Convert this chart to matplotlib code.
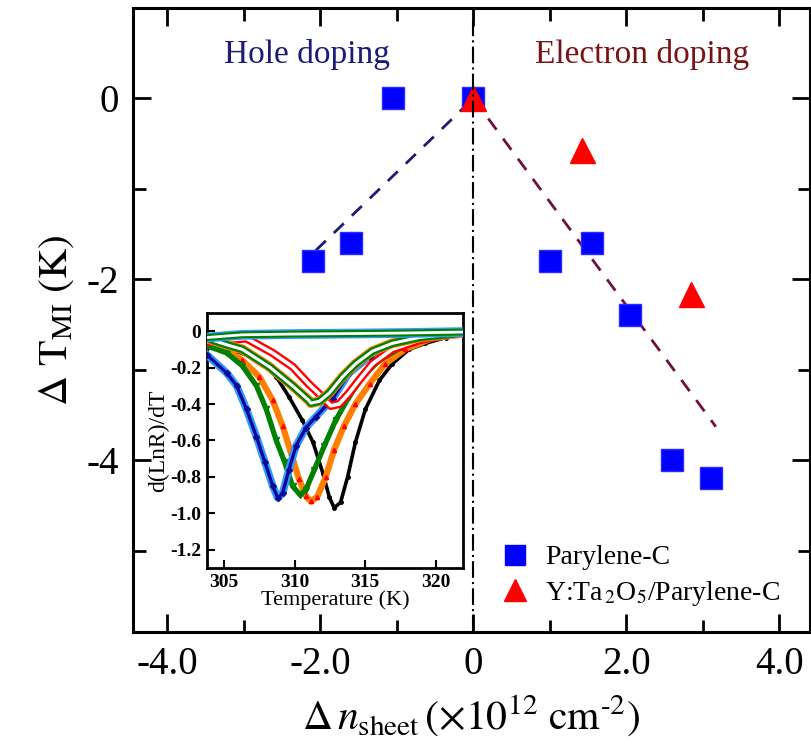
import numpy as np
import matplotlib.pyplot as plt
from matplotlib.lines import Line2D

plt.rcParams['font.family'] = ['Liberation Serif', 'DejaVu Serif']
plt.rcParams['mathtext.fontset'] = 'stix'
plt.rcParams['axes.unicode_minus'] = False

# shift of T_MI vs. sheet carrier density
dn_par = [-2.1, -1.6, -1.05, 0.0, 1.0, 1.55, 2.05, 2.6, 3.1]
dT_par = [-1.8, -1.6, 0.0, 0.0, -1.8, -1.6, -2.4, -4.0, -4.2]
dn_yta = [0.0, 1.42, 2.84]
dT_yta = [0.0, -0.57, -2.16]

# guide lines
hole_x = [-2.06, 0.0]
hole_y = [-1.68, 0.0]
elec_x = [0.0, 3.17]
elec_y = [0.0, -3.63]

xticks = [-4, -2, 0, 2, 4]
xticklabels = ['-4.0', '-2.0', '0', '2.0', '4.0']
yticks = [0, -2, -4]
yticklabels = ['0', '-2', '-4']

# inset: d(lnR)/dT vs temperature
t_blue = [303.8, 305.2, 305.9, 306.6, 307.3, 307.9, 308.45, 308.8, 309.15, 309.6,
          310.1, 310.8, 311.5, 312.7, 313.85, 315.3, 316.9, 319.0, 321.9]
d_blue = [-0.13, -0.23, -0.30, -0.43, -0.58, -0.72, -0.85, -0.915, -0.89, -0.76,
          -0.63, -0.53, -0.47, -0.37, -0.23, -0.14, -0.067, -0.03, -0.012]

t_black = [303.8, 305.9, 307.5, 308.7, 309.6, 310.55, 311.3, 312.0, 312.45, 312.8,
           313.25, 313.75, 314.3, 315.0, 316.0, 316.9, 318.1, 319.25, 320.7, 321.9]
d_black = [-0.09, -0.11, -0.16, -0.25, -0.36, -0.49, -0.61, -0.78, -0.91, -0.97,
           -0.94, -0.80, -0.61, -0.43, -0.27, -0.18, -0.10, -0.067, -0.035, -0.01]

t_orange = [303.8, 305.2, 306.3, 307.5, 308.45, 309.15, 309.75, 310.3, 310.8, 311.15,
            311.6, 312.2, 312.8, 313.5, 314.3, 315.3, 316.4, 317.8, 319.7, 321.9]
d_orange = [-0.08, -0.10, -0.16, -0.25, -0.38, -0.52, -0.67, -0.81, -0.905, -0.935,
            -0.91, -0.80, -0.65, -0.52, -0.40, -0.29, -0.18, -0.10, -0.04, -0.01]

t_green = [303.8, 305.2, 306.3, 307.3, 308.0, 308.7, 309.3, 309.85, 310.4, 310.8,
           311.4, 312.1, 312.9, 313.85, 314.8, 316.0, 317.6, 319.7, 321.9]
d_green = [-0.08, -0.12, -0.19, -0.30, -0.43, -0.60, -0.72, -0.85, -0.90, -0.87,
           -0.76, -0.63, -0.49, -0.36, -0.25, -0.16, -0.086, -0.03, -0.01]

t_red_open = [303.8, 305.0, 306.6, 308.45, 309.85, 311.0, 311.95, 312.55, 313.15, 313.85,
              314.55, 315.5, 316.9, 318.8, 320.7, 321.9]
d_red_open = [-0.06, -0.05, -0.04, -0.12, -0.195, -0.29, -0.36, -0.41, -0.40, -0.34,
              -0.27, -0.18, -0.10, -0.05, -0.02, -0.01]

t_green_open = [303.8, 305.0, 306.3, 308.2, 309.85, 311.0, 311.15, 311.75, 312.45, 313.4,
                314.3, 315.5, 316.9, 318.8, 321.9]
d_green_open = [-0.04, -0.07, -0.10, -0.195, -0.30, -0.38, -0.395, -0.385, -0.34, -0.25,
                -0.18, -0.11, -0.067, -0.035, -0.01]

t_flat = [303.8, 306.3, 309.85, 314.55, 318.0, 321.9]
d_flat = [-0.035, -0.02, -0.016, -0.013, -0.01, -0.005]

fig = plt.figure(figsize=(8.12, 7.49), dpi=100)
ax = fig.add_axes([0.1638, 0.1562, 0.8337, 0.8331])

ax.plot(hole_x, hole_y, color='#1c1c78', lw=2, ls=(0, (5, 4)), zorder=2)
ax.plot(elec_x, elec_y, color='#701040', lw=2, ls=(0, (5, 4)), zorder=2)
ax.plot(dn_par, dT_par, ls='none', marker='s', ms=16.5, color='#0000ff',
        mec='#2a2aff', zorder=3)
ax.plot(dn_yta, dT_yta, ls='none', marker='^', ms=18, color='#ff0000', zorder=4)
ax.axvline(0, color='k', lw=1.5, ls=(0, (8, 2, 1, 2)), zorder=5)

ax.set_xlim(-4.45, 4.4)
ax.set_ylim(-5.9, 1.0)
ax.set_xticks(xticks)
ax.set_xticklabels(xticklabels)
ax.set_yticks(yticks)
ax.set_yticklabels(yticklabels)
ax.set_xticks(np.arange(-3, 4, 2), minor=True)
ax.set_yticks([-1, -3, -5], minor=True)
ax.tick_params(which='both', direction='in', top=True, right=True, width=2)
ax.tick_params(which='major', length=13, labelsize=28, pad=10)
ax.tick_params(which='minor', length=9)
for sp in ax.spines.values():
    sp.set_linewidth(2.2)

ax.set_xlabel(r'$\Delta\,n_{\rm sheet}\,(\times 10^{12}\ {\rm cm}^{‐2})$', fontsize=30, labelpad=8)
ax.set_ylabel(r'$\Delta\ {\rm T}_{\rm MI}\ {\rm (K)}$', fontsize=30, labelpad=8)

ax.text(-2.18, 0.49, 'Hole doping', color='#1c1c78', fontsize=24,
        ha='center', va='center')
ax.text(2.2, 0.49, 'Electron doping', color='#7a1414', fontsize=24,
        ha='center', va='center')

handles = [
    Line2D([], [], ls='none', marker='s', ms=14, color='#0000ff'),
    Line2D([], [], ls='none', marker='^', ms=16, color='#ff0000'),
]
ax.legend(handles, ['Parylene-C', r'Y:Ta$_{\,2}$O$_5$/Parylene-C'],
          loc='lower right', bbox_to_anchor=(0.985, 0.008), frameon=False,
          fontsize=20, handlelength=1.0, handletextpad=0.6, labelspacing=0.3,
          borderpad=0.2)

# inset
axi = fig.add_axes([0.2549, 0.2417, 0.3151, 0.3405])
axi.plot(t_black, d_black, color='k', lw=2.6, marker='o', ms=2.5, zorder=2)
axi.plot(t_orange, d_orange, color='#ff8000', lw=4.5, zorder=3)
axi.plot(t_orange, d_orange, ls='none', marker='^', ms=3, color='#ff0000', zorder=3)
axi.plot(t_green, d_green, color='#008000', lw=3.8, marker='v', ms=4, zorder=4)
axi.plot(t_blue, d_blue, color='#3399ff', lw=5.5, zorder=5)
axi.plot(t_blue, d_blue, color='#0a0a9a', lw=2.4, marker='D', ms=3, zorder=5)
axi.plot(t_red_open, d_red_open, color='#ff0000', lw=6, zorder=6)
axi.plot(t_red_open, d_red_open, color='white', lw=2.6, zorder=6)
axi.plot(t_green_open, d_green_open, color='#ff8000', lw=7, zorder=7)
axi.plot(t_green_open, d_green_open, color='#008000', lw=5.5, zorder=7)
axi.plot(t_green_open, d_green_open, color='white', lw=2.2, zorder=7)
axi.plot(t_flat, d_flat, color='#3399ff', lw=7, zorder=8)
axi.plot(t_flat, d_flat, color='#008000', lw=5, zorder=8)
axi.plot(t_flat, d_flat, color='white', lw=2, zorder=8)

axi.set_xlim(303.8, 321.9)
axi.set_ylim(-1.3, 0.1)
axi.set_xticks([305, 310, 315, 320])
axi.set_xticklabels(['305', '310', '315', '320'])
axi.set_yticks([0, -0.2, -0.4, -0.6, -0.8, -1.0, -1.2])
axi.set_yticklabels(['0', '-0.2', '-0.4', '-0.6', '-0.8', '-1.0', '-1.2'])
axi.tick_params(direction='in', length=6, width=1.5, labelsize=14, pad=4)
for lab in axi.get_xticklabels() + axi.get_yticklabels():
    lab.set_fontweight('bold')
for sp in axi.spines.values():
    sp.set_linewidth(2)
axi.set_xlabel('Temperature (K)', fontsize=16, labelpad=0)
axi.set_ylabel('d(LnR)/dT', fontsize=17, labelpad=1)

plt.savefig('out.png', dpi=100)
